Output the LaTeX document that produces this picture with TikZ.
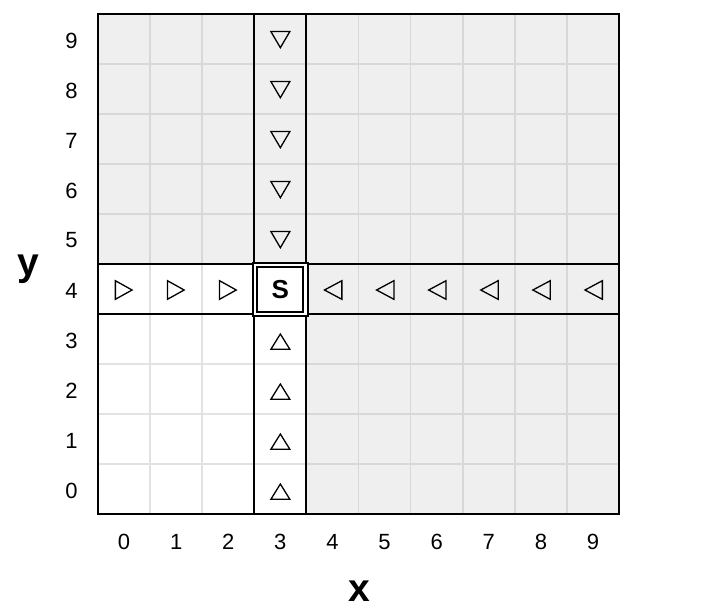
\documentclass[tikz,border=0pt]{standalone}
\usepackage{fontspec}
\setmainfont{Liberation Sans}
\usetikzlibrary{calc}
\definecolor{cellgray}{HTML}{EFEFEF}
\definecolor{gridgray}{HTML}{D8D8D8}
\definecolor{gridlight}{HTML}{E2E2E2}
\tikzset{
  lab/.style={font=\fontsize{22}{26}\selectfont, inner sep=0pt},
  axlab/.style={font=\bfseries\fontsize{39}{44}\selectfont, inner sep=0pt},
  tri/.style={draw=black, line width=1.3pt, line join=miter},
  heavy/.style={draw=black, line width=2pt},
}
\begin{document}
\begin{tikzpicture}[x=52.1pt,y=50pt]
\useasboundingbox (-1.881,-1.88) rectangle (11.823,10.28);
% backgrounds
\fill[cellgray] (0,0) rectangle (10,10);
\fill[white] (0,0) rectangle (4,5);
% grid
\draw[gridgray, line width=1.6pt, xstep=1, ystep=1] (0,0) grid (10,10);
\draw[gridlight, line width=1.6pt, xstep=1, ystep=1] (0,0) grid (4,5);
% heavy lines
\draw[heavy] (3,0) -- (3,10) (4,0) -- (4,10) (0,4) -- (10,4) (0,5) -- (10,5);
\draw[heavy, line join=miter] (0,0) rectangle (10,10);
% start cell
\fill[white] ($(3,4)+(-2.4pt,-2.6pt)$) rectangle ($(4,5)+(2.4pt,2.4pt)$);
\draw[black, line width=2.1pt] ($(3,4)+(-1.3pt,-1.6pt)$) rectangle ($(4,5)+(1.3pt,1.3pt)$);
\draw[black, line width=2.1pt] ($(3,4)+(3pt,2.2pt)$) rectangle ($(4,5)+(-3pt,-2.8pt)$);
\node[font=\bfseries\fontsize{26}{30}\selectfont, inner sep=0pt] (s) at (3.5,4.48) {S};
% triangles
\foreach \j in {5,...,9}
  \draw[tri] (3.5,\j+0.5) ++(-9.5pt,7.5pt) -- ++(19pt,0pt) -- ++(-9.5pt,-16.2pt) -- cycle;
\foreach \j in {0,...,3}
  \draw[tri] (3.5,\j+0.5) ++(-9.5pt,-10.3pt) -- ++(19pt,0pt) -- ++(-9.5pt,15.3pt) -- cycle;
\foreach \i in {0,...,2}
  \draw[tri] (\i+0.5,4.5) ++(-8.7pt,8.3pt) -- ++(0pt,-18.6pt) -- ++(16.7pt,9.3pt) -- cycle;
\foreach \i in {4,...,9}
  \draw[tri] (\i+0.5,4.5) ++(9.4pt,8.3pt) -- ++(0pt,-18.6pt) -- ++(-17.4pt,9.3pt) -- cycle;
% tick labels
\foreach \i in {0,...,9} {
  \node[lab] (xl\i) at (\i+0.5,-0.56) {\i};
  \node[lab] (yl\i) at (-0.509,\i+0.47) {\i};
}
% axis labels
\node[axlab] (xlab) at (5.01,-1.54) {x};
\node[axlab] (ylab) at (-1.334,4.9) {y};
\end{tikzpicture}
\end{document}
